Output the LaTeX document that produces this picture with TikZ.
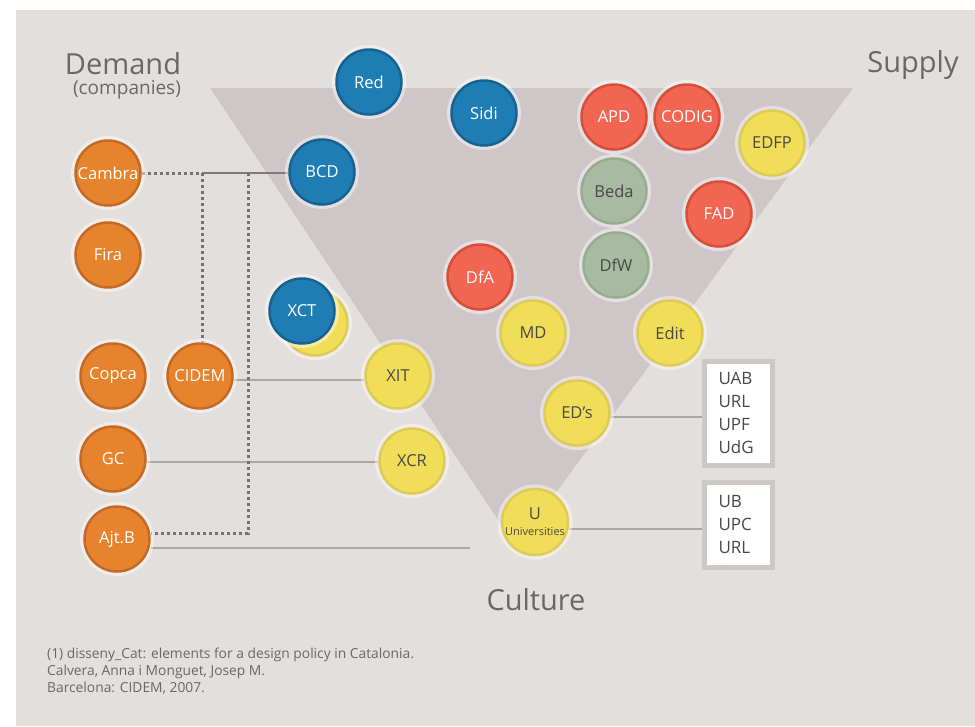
\documentclass[tikz,border=0pt]{standalone}
\usepackage{fontspec}
\setmainfont{Open Sans}
\usetikzlibrary{calc}
\pgfdeclarelayer{bg}
\pgfsetlayers{bg,main}
\definecolor{bgc}{HTML}{E3DFDC}
\definecolor{tric}{HTML}{CEC6C7}
\definecolor{bluef}{HTML}{1F7DB5}
\definecolor{blued}{HTML}{17628F}
\definecolor{redf}{HTML}{F26550}
\definecolor{redd}{HTML}{D84E3C}
\definecolor{yelf}{HTML}{F1DE58}
\definecolor{yeld}{HTML}{DDCB55}
\definecolor{grnf}{HTML}{A6BB9F}
\definecolor{grnd}{HTML}{97AD90}
\definecolor{orf}{HTML}{E6832C}
\definecolor{ord}{HTML}{C46A24}
\definecolor{txtd}{HTML}{4A4848}
\definecolor{linec}{HTML}{ABA5A3}
\definecolor{dotc}{HTML}{77716F}
\definecolor{labc}{HTML}{6B6766}
\definecolor{boxc}{HTML}{CDC7C5}
\begin{document}
\begin{tikzpicture}[x=1pt,y=-1pt,
  ball/.style={circle, minimum size=65pt, inner sep=0pt, line width=2.5pt,
    font=\fontsize{16.5}{19}\selectfont,
    preaction={draw=white, draw opacity=0.45, line width=9pt}},
  blueb/.style={ball, fill=bluef, draw=blued, text=white},
  redb/.style={ball, fill=redf, draw=redd, text=white},
  yelb/.style={ball, fill=yelf, draw=yeld, text=txtd},
  grnb/.style={ball, fill=grnf, draw=grnd, text=txtd},
  orb/.style={ball, fill=orf, draw=ord, text=white},
  solidl/.style={draw=linec, line width=2.5pt},
  darkl/.style={draw=dotc!85!linec, line width=2.5pt},
  dotl/.style={draw=dotc, line width=3pt, dash pattern=on 3pt off 3pt},
  ubox/.style={rectangle, fill=white, draw=boxc, line width=5pt, align=left,
    text=txtd, font=\fontsize{17}{22.7}\selectfont, inner xsep=14pt, inner ysep=0pt,
    minimum width=66pt, text width=40pt},
  biglab/.style={text=labc, font=\fontsize{29}{32}\selectfont, inner sep=0pt}
]
\useasboundingbox (0,0) rectangle (975,726);
\begin{pgfonlayer}{bg}
\fill[white] (0,0) rectangle (975,726);
\fill[bgc] (16,10) rectangle (975,726);
\fill[tric] (210,88) -- (853,88) -- (516,547) -- cycle;
\end{pgfonlayer}

% labels
\node[biglab] (lDemand) at (123,64) {Demand};
\node[text=labc, font=\fontsize{19}{21}\selectfont, inner sep=0pt] (lComp) at (127,90) {(companies)};
\node[biglab] (lSupply) at (913,65) {Supply};
\node[biglab] (lCulture) at (536,600) {Culture};
\node[anchor=north west, align=left, text=labc, font=\fontsize{13.8}{17}\selectfont, inner sep=0pt] (foot) at (47,648)
  {(1) disseny\_Cat: elements for a design policy in Catalonia.\\Calvera, Anna i Monguet, Josep M.\\Barcelona: CIDEM, 2007.};

% supply / culture nodes
\node[blueb] (Red) at (369,82) {Red};
\node[blueb] (Sidi) at (484,113) {Sidi};
\node[blueb] (BCD) at (322,172) {BCD};
\node[yelb] (XCTy) at (315,323) {};
\node[blueb] (XCT) at (302,311) {XCT};
\node[redb] (APD) at (614,117) {APD};
\node[redb] (CODIG) at (687,117) {CODIG};
\node[yelb] (EDFP) at (772,143) {EDFP};
\node[grnb] (Beda) at (614,191) {Beda};
\node[redb] (FAD) at (719,214) {FAD};
\node[grnb] (DfW) at (616,265) {DfW};
\node[redb] (DfA) at (480,277) {DfA};
\node[yelb] (MD) at (533,333) {MD};
\node[yelb] (Edit) at (670,333) {Edit};
\node[yelb] (XIT) at (398,376) {XIT};
\node[yelb] (EDs) at (577,413) {ED’s};
\node[yelb] (XCR) at (412,461) {XCR};
\node[yelb, align=center] (U) at (535,522) {U\\[-3pt]{\fontsize{11}{12}\selectfont Universities}};

% demand nodes
\node[orb] (Cambra) at (108,173) {Cambra};
\node[orb] (Fira) at (108,255) {Fira};
\node[orb] (Copca) at (113,376) {Copca};
\node[orb] (CIDEM) at (200,376) {CIDEM};
\node[orb] (GC) at (113,459) {GC};
\node[orb] (AjtB) at (117,539) {Ajt.B};

% university boxes
\node[ubox, minimum height=104pt] (B1) at (738.5,413) {UAB\\URL\\UPF\\UdG};
\node[ubox, minimum height=85pt] (B2) at (738.5,524.5) {UB\\UPC\\URL};

% connectors
\begin{pgfonlayer}{bg}
\coordinate (j1) at (202,173);
\coordinate (j2) at (248,173);
\coordinate (j3) at (248,533);
\coordinate (uend) at (470,548);
\path ([yshift=-4pt]CIDEM.east) coordinate (c1);
\path ([yshift=-3pt]GC.east) coordinate (g1);
\path ([yshift=-9pt]AjtB.east) coordinate (a1);
\path ([yshift=-4pt]EDs.east) coordinate (e1);
\path ([yshift=-7pt]U.east) coordinate (u1);
\draw[solidl] (c1) -- (c1 -| XIT.west);
\draw[solidl] (g1) -- (g1 -| XCR.west);
\draw[solidl] (a1) -- (uend);
\draw[solidl] (e1) -- (e1 -| B1.west);
\draw[solidl] (u1) -- (u1 -| B2.west);
\draw[darkl] (j1) -- (j1 -| BCD.west);
\draw[dotl] (Cambra.east) -- (j1);
\draw[dotl] (j1) -- (j1 |- CIDEM.north);
\draw[dotl] (j2) -- (j3) -- (j3 -| AjtB.east);
\end{pgfonlayer}
\end{tikzpicture}
\end{document}
